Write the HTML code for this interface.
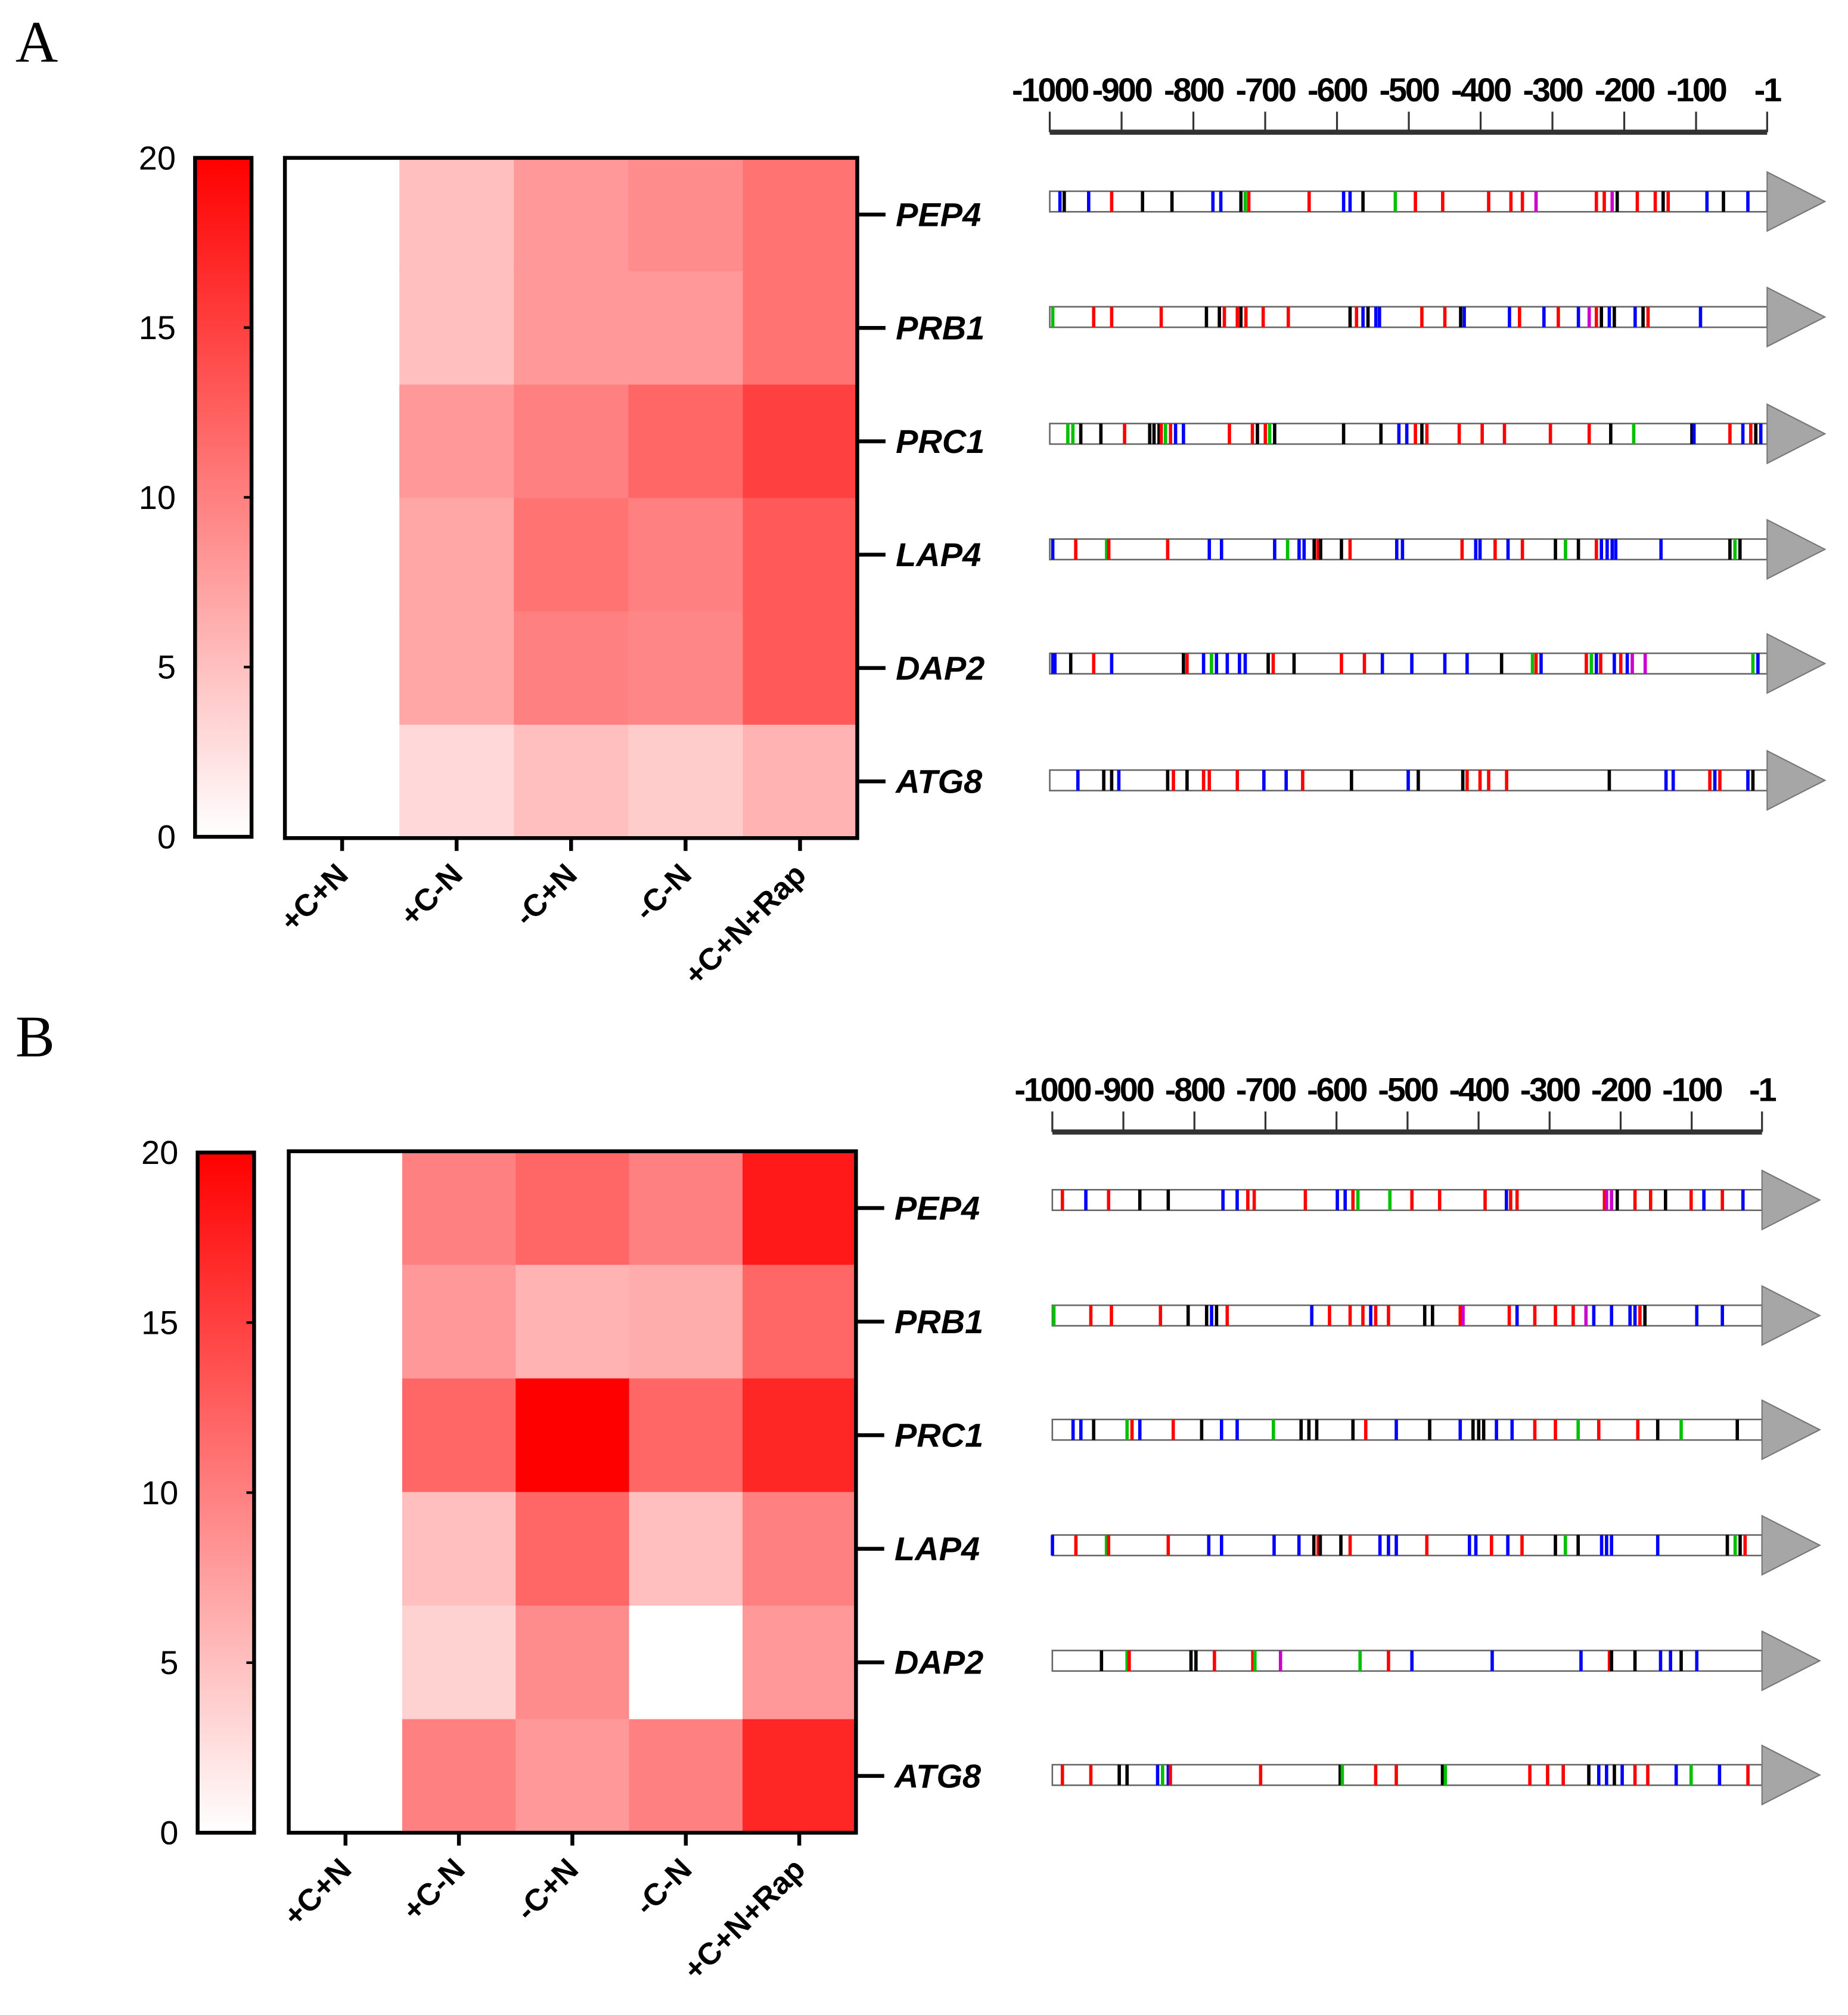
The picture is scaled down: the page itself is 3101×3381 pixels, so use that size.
<!DOCTYPE html>
<html><head><meta charset="utf-8"><style>
html,body{margin:0;padding:0;background:#fff;}
svg{display:block;}
text{font-family:"Liberation Sans",sans-serif;}
</style></head><body>
<svg id="fig" width="3101" height="3381" viewBox="0 0 1440 1570" xmlns="http://www.w3.org/2000/svg">
<defs><linearGradient id="cb" x1="0" y1="1" x2="0" y2="0"><stop offset="0" stop-color="#fff"/><stop offset="1" stop-color="#f00"/></linearGradient></defs>
<rect width="1440" height="1570" fill="#fff"/>
</svg>
<script>
const genes=["PEP4","PRB1","PRC1","LAP4","DAP2","ATG8"];
const conditions=["+C+N","+C-N","-C+N","-C-N","+C+N+Rap"];
const colorTicks=[0,5,10,15,20];
const axisTicks=[-1000,-900,-800,-700,-600,-500,-400,-300,-200,-100,-1];
const heatA=[[0,5,8,9,11],[0,5,8,8,11],[0,8,10,12,15],[0,7,11,10,13],[0,7,10,9.5,13],[0,3,5,4,6]];
const heatB=[[0,10,12,10,18],[0,8,6,6.5,12],[0,12,20,12,17],[0,5,12,5,10],[0,3.5,9,0,8],[0,10,8,10,17]];
const marksA=[
"-986b -980k -946b -914r -871k -830k -773b -762b -734k -728g -723r -639r -591b -582b -564k -519g -491r -453r -389r -358r -342r -323m -239r -228r -217m -210k -182r -157r -146k -139r -85b -62k -28b",
"-996g -939r -914r -845r -782k -764k -757r -739r -734k -727r -703r -668r -582k -573r -564b -557k -546b -541b -482r -450r -428k -423b -360b -346r -312b -292r -264b -249m -239r -232k -221b -214k -185b -174k -167r -94b",
"-975g -968g -957k -929k -896r -861k -855k -848k -845r -839g -832r -825b -814b -750r -718r -711k -700r -694g -687k -591k -539k -514b -503b -491r -482k -475r -430r -398r -367r -303r -249r -219k -187g -106k -103b -53r -35b -24r -17k -10b",
"-996b -964r -921g -918r -836r -778b -761b -687b -669g -653b -646b -632k -627r -623k -594k -582r -517b -509b -426r -407b -401b -380r -362b -342r -296k -282g -264k -239r -232b -224b -217b -212b -149b -53k -46g -39k",
"-996b -993b -971k -939r -914b -814k -809r -786b -775g -768b -753b -736b -728b -696k -689r -660k -594r -562r -537b -496b -450b -419b -371k -328g -323r -316b -253r -246g -239b -233r -214b -205r -196b -189m -171m -21g -14b",
"-961b -925k -914k -904b -836k -828r -809k -786r -778r -739r -702b -671b -648r -580k -501b -487k -425k -419r -401r -389r -364r -221k -142b -132b -81r -74b -67r -28b -21k"];
const marksB=[
"-986r -953b -921r -877k -837k -760b -740b -725r -716r -644r -599b -588b -577r -570g -525g -494r -455r -391r -361b -355r -346r -223r -220m -213m -205k -180r -158r -137k -101r -83b -57r -28b",
"-998g -946r -917r -848r -809k -783k -776b -769k -754r -635b -610r -581r -563r -552b -545r -527r -476k -465k -426r -422m -357r -346b -321r -292r -267r -249m -238b -213b -187b -180b -173r -166k -93b -57b",
"-971b -960b -942k -895g -888r -877b -830r -790k -762b -740b -689g -650k -639k -628k -577k -559r -516b -469k -426b -408k -400k -393k -375b -353b -321r -292r -260g -231r -176r -148k -115g -36k",
"-1000b -967r -924g -921r -837r -780b -762b -688b -653b -632k -626r -623k -594k -581r -539b -527b -516b -473r -413b -404b -382r -359b -339r -292k -278g -260k -227b -220b -213b -148b -50k -39g -32k -25r",
"-931k -895g -892r -805k -798k -772r -718r -715g -679m -567g -527r -494b -381b -256b -216r -213k -180k -144b -130b -115k -93b",
"-986r -946r -906k -895k -852b -845g -837b -834r -707r -595k -592g -545r -516r -451k -447g -328r -303r -281r -245k -231b -220b -209k -198b -180r -162r -122b -101g -61b -21r"];
const NS="http://www.w3.org/2000/svg";
const svg=document.getElementById('fig');
function mk(tag,attrs,parent,txt){const e=document.createElementNS(NS,tag);for(const k in attrs)e.setAttribute(k,attrs[k]);if(txt!==undefined)e.textContent=txt;(parent||svg).appendChild(e);return e;}
const CM={r:"#ff0000",b:"#0000ff",k:"#000000",g:"#00c000",m:"#cc00cc"};
function heatColor(v){const t=Math.max(0,Math.min(1,v/20));const g=Math.round(255*(1-t));return `rgb(255,${g},${g})`;}
function panel(P){
  const g=mk('g',{});
  
  
  const lab=mk('text',{x:12,y:P.letterY,'font-size':46,style:'font-family:"Liberation Serif",serif'},g,P.id);
  
  
  const cbY=v=>P.cb.y1-(v/20)*(P.cb.y1-P.cb.y0);
  const cb=mk('rect',{x:P.cb.x,y:P.cb.y0,width:44,height:P.cb.y1-P.cb.y0,fill:'url(#cb)',stroke:'#000','stroke-width':3},g);
  
  
  colorTicks.forEach(v=>{
    const y=cbY(v);
    if(v>0&&v<20){const tk=mk('line',{x1:P.cb.x+38,x2:P.cb.x+44,y1:y,y2:y,stroke:'#000','stroke-width':2},g);
      
      }
    const t=mk('text',{x:P.cb.x-15,y:y+9,'font-size':26,'text-anchor':'end'},g,String(v));
    
    
  });
  const H=P.hm,cw=(H.x1-H.x0)/conditions.length,rh=(H.y1-H.y0)/genes.length;
  P.heat.forEach((row,i)=>row.forEach((v,j)=>{
    const c=mk('rect',{x:H.x0+j*cw,y:H.y0+i*rh,width:cw+0.5,height:rh+0.5,fill:heatColor(v)},g);
    
    
  }));
  const fr=mk('rect',{x:H.x0,y:H.y0,width:H.x1-H.x0,height:H.y1-H.y0,fill:'none',stroke:'#000','stroke-width':3},g);
  
  
  genes.forEach((gn,i)=>{
    const y=H.y0+(i+0.5)*rh;
    mk('line',{x1:H.x1,x2:H.x1+22,y1:y,y2:y,stroke:'#000','stroke-width':3},g);
    const t=mk('text',{x:H.x1+30,y:y+9,'font-size':26,'font-weight':'bold','font-style':'italic'},g,gn);
    
    
  });
  conditions.forEach((c,j)=>{
    const x=H.x0+(j+0.5)*cw;
    mk('line',{x1:x,x2:x,y1:H.y1,y2:H.y1+10,stroke:'#000','stroke-width':3},g);
    const t=mk('text',{x:x+6,y:H.y1+30,'font-size':24,'font-weight':'bold','text-anchor':'end',transform:`rotate(-45 ${x+6} ${H.y1+30})`},g,c);
    
    
  });
  const A=P.ax,px=bp=>A.x0+(bp+1000)/999*(A.x1-A.x0);
  const al=mk('line',{x1:A.x0,x2:A.x1,y1:A.y,y2:A.y,stroke:'#333','stroke-width':4},g);
  
  
  axisTicks.forEach(v=>{
    const x=px(v);
    mk('line',{x1:x,x2:x,y1:A.y-16,y2:A.y,stroke:'#333','stroke-width':1.5},g);
    const t=mk('text',{x:x,y:A.y-24,'font-size':26,'font-weight':'bold','text-anchor':'middle','letter-spacing':'-1.5'},g,String(v));
    
    
  });
  P.marks.forEach((str,i)=>{
    const y=P.rows[i];
    const bg=mk('g',{},g);
    
    
    mk('rect',{x:A.x0,y:y-8,width:A.x1-A.x0,height:16,fill:'#fff',stroke:'#666','stroke-width':1.2},bg);
    str.split(' ').forEach(s=>{
      const bp=parseFloat(s),col=CM[s.slice(-1)];
      const m=mk('rect',{x:px(bp)-1.2,y:y-8,width:2.6,height:16,fill:col},bg);
      
      
    });
    const ar=mk('polygon',{points:`${A.x1},${y-23} ${A.x1+45},${y} ${A.x1},${y+23}`,fill:'#a6a6a6',stroke:'#777','stroke-width':1},bg);
    
    
  });
}
panel({id:'A',letterY:48,cb:{x:152,y0:123,y1:652},hm:{x0:222,x1:668,y0:123,y1:653},ax:{x0:818,x1:1377,y:103},rows:[157,247,338,428,517,608],heat:heatA,marks:marksA});
panel({id:'B',letterY:823,cb:{x:154,y0:898,y1:1428},hm:{x0:225,x1:667,y0:897,y1:1428},ax:{x0:820,x1:1373,y:882},rows:[935,1025,1114,1204,1294,1383],heat:heatB,marks:marksB});
</script>
</body></html>
